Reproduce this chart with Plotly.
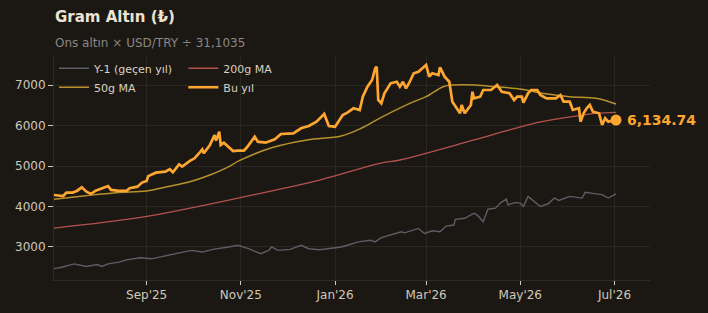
import plotly.graph_objects as go

# ---------------- data ----------------
bu_yil_dates = [
    "2025-07-03", "2025-07-09", "2025-07-11", "2025-07-15", "2025-07-18", "2025-07-21", "2025-07-24",
    "2025-07-27", "2025-07-30", "2025-08-04", "2025-08-07", "2025-08-09", "2025-08-13", "2025-08-19",
    "2025-08-21", "2025-08-26", "2025-08-29", "2025-09-01", "2025-09-02", "2025-09-07", "2025-09-13",
    "2025-09-16", "2025-09-18", "2025-09-22", "2025-09-24", "2025-09-29", "2025-10-02", "2025-10-05",
    "2025-10-07", "2025-10-08", "2025-10-12", "2025-10-15", "2025-10-16", "2025-10-18", "2025-10-19",
    "2025-10-21", "2025-10-27", "2025-10-30", "2025-11-03", "2025-11-05", "2025-11-10", "2025-11-12",
    "2025-11-17", "2025-11-23", "2025-11-27", "2025-12-05", "2025-12-10", "2025-12-15", "2025-12-20",
    "2025-12-25", "2025-12-28", "2026-01-01", "2026-01-04", "2026-01-06", "2026-01-09", "2026-01-13",
    "2026-01-17", "2026-01-19", "2026-01-22", "2026-01-25", "2026-01-27", "2026-01-28", "2026-01-29",
    "2026-01-31", "2026-02-02", "2026-02-04", "2026-02-06", "2026-02-10", "2026-02-12", "2026-02-14",
    "2026-02-16", "2026-02-18", "2026-02-21", "2026-02-24", "2026-03-01", "2026-03-03", "2026-03-05",
    "2026-03-09", "2026-03-10", "2026-03-13", "2026-03-16", "2026-03-18", "2026-03-23", "2026-03-24",
    "2026-03-26", "2026-03-30", "2026-03-31", "2026-04-01", "2026-04-05", "2026-04-07", "2026-04-12",
    "2026-04-16", "2026-04-19", "2026-04-24", "2026-04-27", "2026-04-29", "2026-05-02", "2026-05-03",
    "2026-05-06", "2026-05-08", "2026-05-12", "2026-05-14", "2026-05-18", "2026-05-24", "2026-05-27",
    "2026-05-29", "2026-06-02", "2026-06-04", "2026-06-08", "2026-06-09", "2026-06-11", "2026-06-13",
    "2026-06-15", "2026-06-17", "2026-06-21", "2026-06-23", "2026-06-25", "2026-06-27", "2026-07-02",
]
bu_yil_values = [
    4284, 4259, 4341, 4341, 4390, 4474, 4365,
    4310, 4390, 4450, 4505, 4410, 4390, 4385,
    4450, 4490, 4590, 4630, 4750, 4835, 4860,
    4920, 4845, 5040, 4985, 5125, 5190, 5315,
    5410, 5315, 5520, 5765, 5625, 5845, 5520,
    5575, 5370, 5380, 5378, 5462, 5723, 5600,
    5575, 5659, 5790, 5807, 5931, 5988, 6094,
    6284, 5988, 5970, 6153, 6259, 6316, 6425,
    6383, 6711, 6958, 7123, 7412, 7452, 6629,
    6548, 6795, 6918, 7042, 7081, 6958, 7081,
    6918, 7050, 7289, 7328, 7494, 7205, 7289,
    7247, 7437, 7205, 7081, 6588, 6301, 6506,
    6301, 6506, 6834, 6671, 6711, 6876, 6876,
    7000, 6834, 6795, 6629, 6711, 6711, 6563,
    6795, 6876, 6876, 6753, 6671, 6671, 6753,
    6588, 6588, 6383, 6425, 6094, 6301, 6425,
    6506, 6341, 6301, 6012, 6178, 6094, 6134.74,
]

ma50_dates = [
    "2025-07-03", "2025-07-22", "2025-08-12", "2025-09-01", "2025-09-14", "2025-09-29", "2025-10-12",
    "2025-10-23", "2025-10-31", "2025-11-22", "2025-12-14", "2026-01-05", "2026-01-18", "2026-01-31",
    "2026-02-21", "2026-03-01", "2026-03-12", "2026-03-18", "2026-04-02", "2026-04-15", "2026-05-02",
    "2026-05-15", "2026-06-02", "2026-06-19", "2026-07-02",
]
ma50_values = [
    4178, 4259, 4341, 4383, 4489, 4612, 4778,
    4958, 5131, 5461, 5642, 5741, 5931, 6202,
    6588, 6711, 6958, 7000, 7000, 6958, 6894,
    6795, 6711, 6671, 6530,
]

ma200_dates = [
    "2025-07-03", "2025-08-27", "2025-09-29", "2025-10-31", "2025-12-22", "2026-01-30", "2026-02-12",
    "2026-04-01", "2026-04-24", "2026-05-15", "2026-06-06", "2026-06-19", "2026-07-02",
]
ma200_values = [
    3465, 3723, 3960, 4215, 4654, 5066, 5148,
    5642, 5889, 6094, 6234, 6301, 6326,
]

y1_dates = [
    "2025-07-03", "2025-07-08", "2025-07-16", "2025-07-24", "2025-07-31", "2025-08-03", "2025-08-07",
    "2025-08-14", "2025-08-19", "2025-08-28", "2025-09-04", "2025-09-09", "2025-09-13", "2025-09-23",
    "2025-09-30", "2025-10-07", "2025-10-14", "2025-10-24", "2025-10-30", "2025-11-06", "2025-11-14",
    "2025-11-19", "2025-11-21", "2025-11-25", "2025-12-03", "2025-12-10", "2025-12-15", "2025-12-22",
    "2025-12-29", "2026-01-05", "2026-01-09", "2026-01-16", "2026-01-24", "2026-01-27", "2026-01-31",
    "2026-02-07", "2026-02-13", "2026-02-15", "2026-02-21", "2026-02-24", "2026-02-28", "2026-03-05",
    "2026-03-10", "2026-03-14", "2026-03-19", "2026-03-20", "2026-03-26", "2026-04-01", "2026-04-03",
    "2026-04-07", "2026-04-10", "2026-04-15", "2026-04-18", "2026-04-22", "2026-04-23", "2026-04-28",
    "2026-05-01", "2026-05-03", "2026-05-06", "2026-05-10", "2026-05-14", "2026-05-19", "2026-05-23",
    "2026-05-26", "2026-06-02", "2026-06-10", "2026-06-12", "2026-06-18", "2026-06-23", "2026-06-27",
    "2026-07-02",
]
y1_values = [
    2465, 2500, 2583, 2517, 2567, 2520, 2583,
    2625, 2683, 2733, 2708, 2750, 2792, 2875,
    2917, 2875, 2942, 3000, 3042, 2958, 2833,
    2917, 3000, 2917, 2942, 3042, 2958, 2933,
    2958, 3000, 3042, 3125, 3167, 3125, 3233,
    3317, 3375, 3350, 3417, 3458, 3333, 3400,
    3375, 3517, 3542, 3683, 3708, 3833, 3792,
    3625, 3933, 3958, 4083, 4183, 4042, 4100,
    4083, 4000, 4250, 4125, 4000, 4067, 4208,
    4150, 4250, 4208, 4350, 4317, 4292, 4208,
    4309,
]

x_tick_vals = ["2025-09-01", "2025-11-01", "2026-01-01", "2026-03-01", "2026-05-01", "2026-07-01"]
x_tick_text = ["Sep'25", "Nov'25", "Jan'26", "Mar'26", "May'26", "Jul'26"]
y_tick_vals = [3000, 4000, 5000, 6000, 7000]

title_text = "Gram Altın (₺)"
subtitle_text = "Ons altın × USD/TRY ÷ 31,1035"
last_label = "6,134.74"

# ---------------- styles ----------------
BG = "#1b1814"
GRID = "#2a2622"
ORANGE = "#ffa630"
GOLD = "#b8902c"
RED = "#b4524e"
GRAY = "#5b5e65"
FONT = "DejaVu Sans"

fig = go.Figure()
fig.add_trace(go.Scatter(x=y1_dates, y=y1_values, mode="lines", name="Y-1 (geçen yıl)",
                         line=dict(color=GRAY, width=1.4), legend="legend"))
fig.add_trace(go.Scatter(x=ma200_dates, y=ma200_values, mode="lines", name="200g MA",
                         line=dict(color=RED, width=1.3, shape="spline"), legend="legend2"))
fig.add_trace(go.Scatter(x=ma50_dates, y=ma50_values, mode="lines", name="50g MA",
                         line=dict(color=GOLD, width=1.5, shape="spline"), legend="legend"))
fig.add_trace(go.Scatter(x=bu_yil_dates, y=bu_yil_values, mode="lines", name="Bu yıl",
                         line=dict(color=ORANGE, width=2.7), legend="legend2"))
fig.add_trace(go.Scatter(x=[bu_yil_dates[-1]], y=[bu_yil_values[-1]], mode="markers",
                         marker=dict(color=ORANGE, size=11), showlegend=False))

fig.add_annotation(x=bu_yil_dates[-1], y=bu_yil_values[-1], text="<b>" + last_label + "</b>",
                   showarrow=False, xanchor="left", yanchor="middle", xshift=9,
                   font=dict(family=FONT, size=14, color=ORANGE))
fig.add_annotation(xref="paper", yref="paper", x=0, y=1, xshift=-1, yshift=39,
                   text="<b>" + title_text + "</b>", showarrow=False, xanchor="left", yanchor="middle",
                   font=dict(family=FONT, size=15, color="#ece3d2"))
fig.add_annotation(xref="paper", yref="paper", x=0, y=1, xshift=-1, yshift=13,
                   text=subtitle_text, showarrow=False, xanchor="left", yanchor="middle",
                   font=dict(family=FONT, size=12, color="#8c8680"))

legend_common = dict(orientation="v", bgcolor="rgba(0,0,0,0)", borderwidth=0,
                     font=dict(family=FONT, size=11, color="#d9d1c1"),
                     yanchor="top", xanchor="left", tracegroupgap=0, itemwidth=30)

fig.update_layout(
    width=708, height=313,
    margin=dict(l=54, r=58, t=56, b=33),
    paper_bgcolor=BG, plot_bgcolor=BG,
    font=dict(family=FONT, size=12, color="#cfc8b8"),
    showlegend=True,
    legend=dict(x=0.0, y=1.01, **legend_common),
    legend2=dict(x=0.217, y=1.01, **legend_common),
    xaxis=dict(type="date", range=["2025-07-03", "2026-07-24"], tickvals=x_tick_vals,
               ticktext=x_tick_text, ticks="outside", ticklen=4, tickcolor="#cfc8b8",
               showgrid=True, gridcolor=GRID, gridwidth=1, showline=True, linecolor="#2e2a26",
               zeroline=False, tickfont=dict(family=FONT, size=12, color="#cfc8b8")),
    yaxis=dict(range=[2185, 7716], tickvals=y_tick_vals, ticks="outside", ticklen=5,
               tickcolor="#cfc8b8", showgrid=True, gridcolor=GRID, gridwidth=1,
               showline=True, linecolor="#2e2a26", zeroline=False,
               tickfont=dict(family=FONT, size=12, color="#cfc8b8")),
)

fig.write_html("out.html")
